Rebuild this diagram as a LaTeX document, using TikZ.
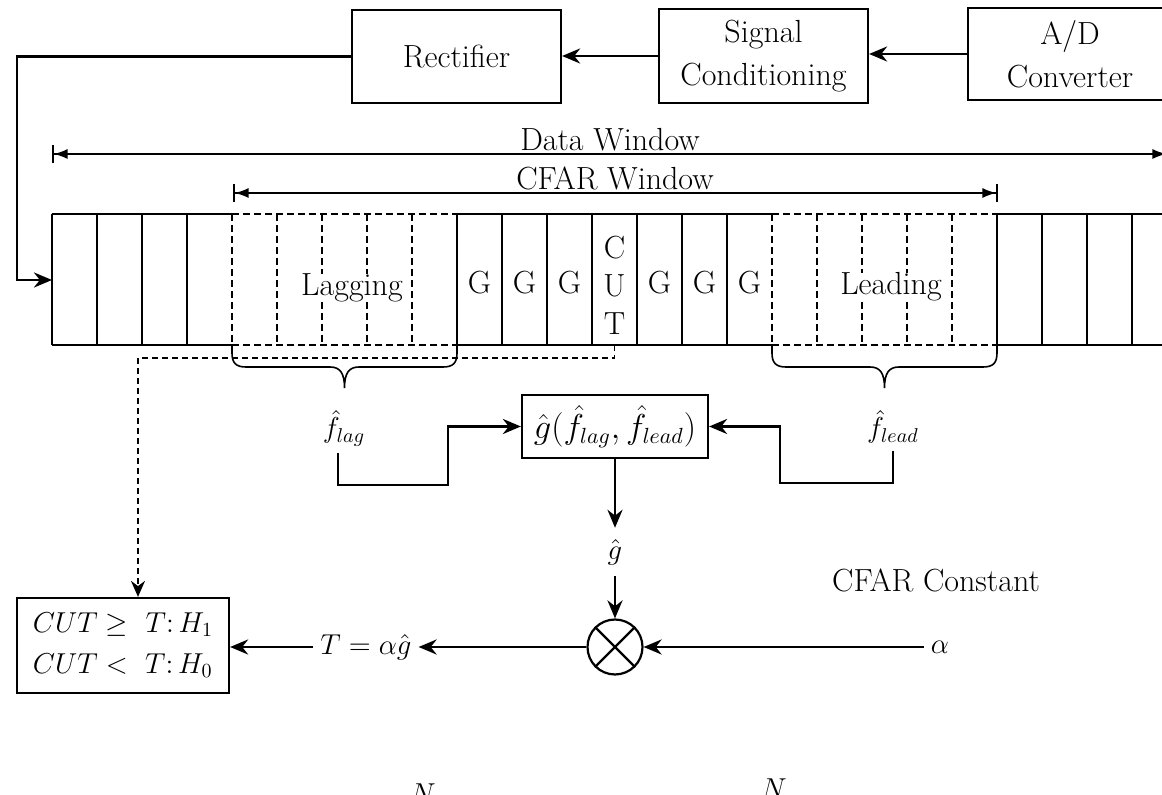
\documentclass[tikz,border=0pt]{standalone}
\usetikzlibrary{arrows.meta,calc}
\begin{document}
\begin{tikzpicture}[x=0.5pt,y=-0.5pt,
  font=\fontsize{16}{19}\selectfont,
  mathlbl/.style={font=\fontsize{14.4}{17}\selectfont},
  box/.style={draw,line width=1.1pt,inner sep=0pt,align=center},
  twoline/.style={font=\fontsize{16}{21.5}\selectfont},
  conn/.style={line width=1.4pt,-{Stealth[length=9pt,width=7.5pt]}},
  dimline/.style={line width=0.8pt,
    {Bar[width=9pt]Latex[length=7pt,width=5pt]}-{Latex[length=7pt,width=5pt]Bar[width=9pt]}},
  cellline/.style={line width=0.8pt},
  rowedge/.style={line width=1pt},
  dcell/.style={line width=0.8pt,dash pattern=on 3.5pt off 2pt},
  brc/.style={line width=0.8pt},
  dconn/.style={line width=0.9pt,dash pattern=on 3pt off 2pt,-{Stealth[length=8pt,width=7pt]}},
]
\useasboundingbox (0,0) rectangle (1162,795);

% ---------- processing chain ----------
\node[box,minimum width=104.5pt,minimum height=46.5pt] (rect) at (456.5,56.5) {Rectifier};
\node[box,twoline,minimum width=104.5pt,minimum height=47pt] (sig) at (763.5,56) {Signal\\Conditioning};
\node[box,twoline,minimum width=102pt,minimum height=46pt] (adc) at (1070,54) {A/D\\Converter};

\draw[conn] (adc.west) -- (adc.west -| sig.east);
\draw[conn] (sig.west) -- (sig.west -| rect.east);

% feedback into the data row
\coordinate (rowin) at (52,280);
\coordinate (fbcorner) at (17,280);
\draw[conn] (rect.west) -| (fbcorner) -- (rowin);

% ---------- window dimension lines ----------
\coordinate (dwl) at (52,154);
\coordinate (dwr) at (1168,154);
\draw[dimline] (dwl) -- (dwr);
\node (dwtext) at (610,140) {Data Window};

\coordinate (cwl) at (233,193);
\coordinate (cwr) at (998,193);
\draw[dimline] (cwl) -- (cwr);
\node (cwtext) at (615,178) {CFAR Window};

% ---------- data cells ----------
% solid outline parts
\draw[rowedge] (52,214) -- (232,214) (52,345) -- (232,345);
\draw[rowedge] (457,214) -- (772,214) (457,345) -- (772,345);
\draw[rowedge] (997,214) -- (1170,214) (997,345) -- (1170,345);
\draw[rowedge] (52,214) -- (52,345);
% dashed outline of reference windows
\draw[dcell] (232,214) -- (457,214) (232,345) -- (457,345);
\draw[dcell] (772,214) -- (997,214) (772,345) -- (997,345);
% solid cell dividers
\foreach \x in {97,142,187,457,502,547,592,637,682,727,997,1042,1087,1132}
  \draw[cellline] (\x,214) -- (\x,345);
% dashed cell dividers
\foreach \x in {232,277,322,367,412,772,817,862,907,952}
  \draw[dcell] (\x,214) -- (\x,345);

% cell labels
\foreach \i/\x in {1/479.5,2/524.5,3/569.5,4/659.5,5/704.5,6/749.5}
  \node (g\i) at (\x,283) {G};
\node[align=center] (cut) at (614.5,285) {C\\U\\T};
\node[fill=white,inner sep=0pt] (lag) at (352,288) {Lagging};
\node[fill=white,inner sep=0pt] (lead) at (891,287) {Leading};

% ---------- braces under the windows ----------
\draw[brc] (232,345) -- (232,353) .. controls (232,363) and (236,367) .. (246,367)
  -- (330,367) .. controls (340,367) and (344.5,373) .. (344.5,388)
  .. controls (344.5,373) and (349,367) .. (359,367)
  -- (443,367) .. controls (453,367) and (457,363) .. (457,353) -- (457,345);
\draw[brc] (772,345) -- (772,353) .. controls (772,363) and (776,367) .. (786,367)
  -- (870,367) .. controls (880,367) and (884.5,373) .. (884.5,388)
  .. controls (884.5,373) and (889,367) .. (899,367)
  -- (983,367) .. controls (993,367) and (997,363) .. (997,353) -- (997,345);

% ---------- estimator ----------
\node[mathlbl] (flag) at (344,428) {$\hat f_{lag}$};
\node[mathlbl] (flead) at (893,427) {$\hat f_{lead}$};
\node[box,minimum width=93pt,minimum height=31.5pt] (gbox) at (615,426.5)
  {$\hat g\Big(\hat f_{lag},\hat f_{lead}\Big)$};

\coordinate (lagturn) at (448,485);
\coordinate (leadturn) at (780,483);
\draw[conn] ([xshift=-3pt]flag.south) |- (lagturn) |- (gbox.west);
\draw[conn] (flead.south) |- (leadturn) |- (gbox.east);

\node[mathlbl,inner sep=5.5pt] (ghat) at (615,552) {$\hat g$};
\node[draw,circle,line width=1.1pt,minimum size=27.5pt,inner sep=0pt] (mult) at (615,647) {};
\draw[line width=1.1pt] (mult.45) -- (mult.225) (mult.135) -- (mult.315);

\draw[conn] (gbox.south) -- (ghat.north);
\draw[conn] (ghat.south) -- (mult.north);

\node (cconst) at (936,580) {CFAR Constant};
\node[mathlbl] (alpha) at (940,647) {$\alpha$};
\draw[conn] (alpha.west) -- (mult.east);

\node[mathlbl] (tlab) at (366,647) {$T=\alpha\hat g$};
\draw[conn] (mult.west) -- (tlab.east);

% ---------- decision ----------
\node[box,align=left,font=\fontsize{14.4}{20.5}\selectfont,
      minimum width=106pt,minimum height=47.5pt] (dec) at (123,645.5)
  {$CUT\geq\ T\colon H_1$\\$CUT<\ T\colon H_0$};
\draw[conn] (tlab.west) -- (tlab.west -| dec.east);

\coordinate (cutbot) at (614.5,345);
\coordinate (dashx) at (138,358);
\draw[dconn] (cutbot) |- (dashx) -- (dashx |- dec.north);

% ---------- start of the following formula ----------
\node[anchor=north,inner sep=0pt,mathlbl] (n1) at (423,783) {$N$};
\node[anchor=north,inner sep=0pt,mathlbl] (n2) at (774,778) {$N$};
\end{tikzpicture}
\end{document}
